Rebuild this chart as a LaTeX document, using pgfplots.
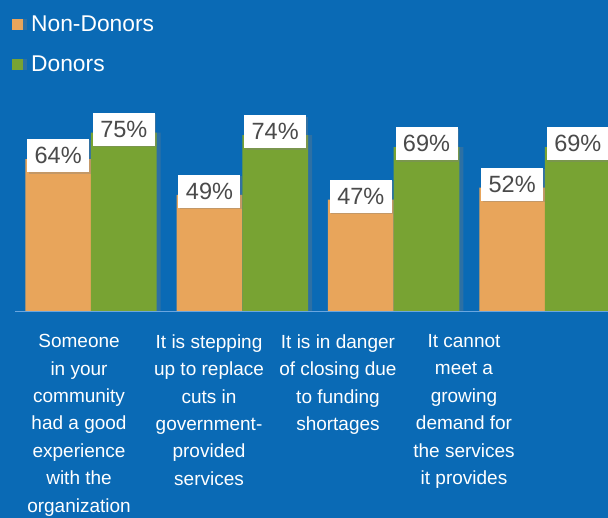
\documentclass[border=0pt]{standalone}
\usepackage{pgfplots}
\pgfplotsset{compat=1.18}
\usepackage{fontspec}
\setmainfont{Liberation Sans}
\usetikzlibrary{shadows}
\definecolor{bgblue}{HTML}{0A6AB5}
\definecolor{barorange}{HTML}{E8A55B}
\definecolor{bargreen}{HTML}{78A333}
\definecolor{axisline}{HTML}{6AA6E0}
\definecolor{labelgray}{HTML}{4A4A4A}
\begin{document}
\begin{tikzpicture}
\path[use as bounding box] (0bp,0bp) rectangle (608bp,518bp);
\clip (0bp,0bp) rectangle (608bp,518bp);
\fill[bgblue] (0bp,0bp) rectangle (608bp,518bp);
\begin{axis}[
  at={(0bp,206bp)}, anchor=south west,
  scale only axis, width=608bp, height=239bp,
  xmin=-0.6013, xmax=3.4164, ymin=0, ymax=100,
  ybar=0pt, bar width=65.7bp,
  axis line style={draw=none},
  major tick length=0pt,
  ytick=\empty,
  /pgf/number format/assume math mode=true,
  xtick={-0.079,0.780,1.632,2.465},
  xticklabels={{Someone\\in your\\community\\had a good\\experience\\with the\\organization},
    {It is stepping\\up to replace\\cuts in\\government-\\provided\\services},
    {It is in danger\\of closing due\\to funding\\shortages},
    {It cannot\\meet a\\growing\\demand for\\the services\\it provides}},
  xticklabel style={align=center, font=\fontsize{19bp}{27.4bp}\selectfont, text=white, yshift=-19bp},
  nodes near coords={\pgfmathprintnumber[assume math mode=true]{\pgfplotspointmeta}\%},
  every node near coord/.append style={fill=white, text=labelgray,
    font=\fontsize{23.5bp}{24bp}\selectfont, anchor=center, yshift=3.5bp,
    minimum width=62bp, text height=16.7bp, text depth=0pt,
    inner xsep=0pt, inner ysep=8.2bp,
    drop shadow={shadow xshift=1.5bp, shadow yshift=-1.5bp, opacity=0.35}},
  legend style={at={(0.0197,1.25)}, anchor=north west, draw=none, fill=none,
    text=white, font=\fontsize{22.8bp}{23bp}\selectfont, row sep=19bp, column sep=6bp, inner sep=0pt,
    cells={anchor=west}},
  legend cell align=left,
]
\addplot[fill=barorange, draw=none,
  drop shadow={shadow xshift=4bp, shadow yshift=0bp, opacity=0.3},
  legend image code/.code={\fill[barorange] (0bp,-5.5bp) rectangle (11bp,5.5bp);}]
  coordinates {(0,64) (1,49) (2,47) (3,52)};
\addplot[fill=bargreen, draw=none,
  drop shadow={shadow xshift=4bp, shadow yshift=0bp, opacity=0.3},
  legend image code/.code={\fill[bargreen] (0bp,-5.5bp) rectangle (11bp,5.5bp);}]
  coordinates {(0,75) (1,74) (2,69) (3,69)};
\legend{Non-Donors, Donors}
\draw[axisline, line width=1.5bp] (axis cs:-0.5,0) -- (axis cs:3.5,0);
\end{axis}
\end{tikzpicture}
\end{document}
